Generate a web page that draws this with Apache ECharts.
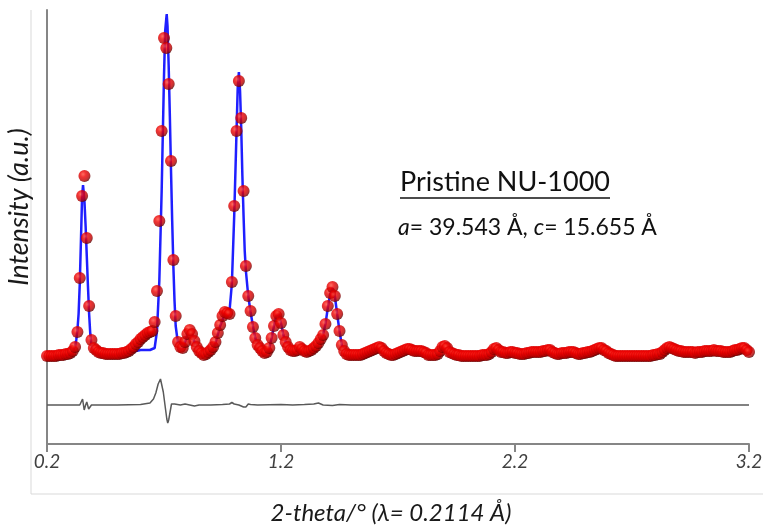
<!DOCTYPE html>
<html><head><meta charset="utf-8">
<script src="https://cdn.jsdelivr.net/npm/echarts@6/dist/echarts.min.js"></script>
<style>html,body{margin:0;padding:0;background:#fff}#c{width:765px;height:526px}</style>
</head><body><div id="c"></div>
<script>
// observed pattern: 2-theta grid start/step and intensities (a.u.)
const obsStart = 0.2, obsStep = 0.01;
const obsIntensity = [
0,0,0,0,0,1,1,1,2,2,
3,5,9,24,78,160,180,118,50,16,
8,6,4,3,3,2,2,2,2,2,
2,2,3,3,4,5,7,9,12,14,
17,19,21,23,24,25,34,65,135,225,
318,308,272,195,96,40,14,9,8,14,
22,26,22,15,9,5,3,1,2,4,
6,9,14,23,31,40,44,43,42,74,
150,225,275,238,165,90,60,45,29,18,
11,8,5,3,4,8,18,30,40,42,
33,21,14,9,6,5,5,6,9,7,
5,4,5,6,8,10,13,17,21,32,
50,63,69,60,42,25,11,5,2,1,
1,1,1,1,1,2,3,4,5,6,
7,8,9,8,5,3,2,1,1,2,
3,4,5,6,7,7,6,5,5,5,
5,4,3,1,1,1,1,2,5,9,
10,8,4,3,2,1,1,0,0,0,
0,0,0,0,0,0,1,1,1,2,
4,7,8,6,4,4,3,3,4,4,
3,3,2,2,2,3,3,4,4,4,
4,4,5,5,6,6,4,3,2,2,
3,3,3,4,4,4,3,2,2,3,
3,4,4,5,6,7,8,8,6,5,
3,2,1,0,0,0,0,0,0,0,
0,0,0,0,0,0,0,0,0,1,
1,2,2,4,6,8,9,8,7,6,
5,5,4,4,4,4,4,3,4,4,
4,5,5,5,5,6,5,5,5,4,
4,4,4,5,6,6,7,8,8,6,
4
];
// calculated (fitted) pattern
const calcTwoTheta = [
0.20,0.24,0.28,0.30,0.31,0.32,0.325,0.33,0.335,0.34,
0.345,0.35,0.354,0.36,0.365,0.37,0.375,0.38,0.385,0.39,
0.40,0.42,0.46,0.50,0.56,0.60,0.64,0.66,0.67,0.68,
0.69,0.70,0.705,0.7115,0.715,0.72,0.725,0.73,0.735,0.74,
0.745,0.75,0.76,0.77,0.78,0.79,0.80,0.81,0.82,0.83,
0.84,0.86,0.88,0.90,0.92,0.94,0.96,0.97,0.98,0.99,
1.00,1.01,1.015,1.02,1.025,1.03,1.035,1.04,1.045,1.05,
1.06,1.07,1.08,1.09,1.10,1.12,1.14,1.15,1.16,1.17,
1.18,1.19,1.20,1.21,1.22,1.24,1.26,1.28,1.30,1.32,
1.34,1.36,1.38,1.39,1.40,1.41,1.42,1.43,1.44,1.45,
1.46,1.47,1.49,1.55,1.60,1.62,1.65,1.70,1.75,1.80,
1.85,1.88,1.90,1.95,2.00,2.10,2.12,2.15,2.20,2.25,
2.30,2.35,2.40,2.45,2.50,2.55,2.60,2.65,2.75,2.80,
2.86,2.90,2.95,3.00,3.05,3.10,3.15,3.18,3.20
];
const calcIntensity = [
0,1,2,3,5,10,16,26,42,72,
115,160,171,155,130,100,70,42,22,11,
6,4,3,3,4,6,6,8,25,75,
165,280,325,342,330,290,240,185,135,90,
55,30,12,8,8,14,22,26,22,14,
8,3,2,5,13,30,42,42,45,72,
140,225,268,284,265,228,180,140,105,85,
60,44,30,18,11,5,4,8,18,30,
40,42,33,21,14,6,5,8,5,5,
8,13,22,32,48,62,68,60,42,25,
11,5,2,1,6,8,3,2,7,4,
1,5,9,1,0,4,7,4,3,3,
4,6,3,3,4,7,2,0,1,4,
8,5,4,4,5,5,6,7,4
];
// difference curve (obs - calc), drawn shifted below the pattern
const diffTwoTheta = [
0.20,0.30,0.34,0.345,0.352,0.359,0.365,0.37,0.378,0.39,
0.50,0.60,0.64,0.655,0.665,0.675,0.685,0.69,0.697,0.707,
0.712,0.716,0.72,0.726,0.732,0.737,0.745,0.75,0.77,0.79,
0.81,0.83,0.85,0.90,0.95,0.98,0.99,1.00,1.02,1.04,
1.05,1.06,1.07,1.10,1.20,1.25,1.30,1.34,1.36,1.38,
1.42,1.45,1.50,3.20
];
const diffIntensity = [
0,0,0,2,6,-5,0,3,-4,0,
0,0.5,2,6,12,21,26,24,13,-5,
-14,-18,-15,-7,1,3,1,-1,0,1,
0,-1,0,0,0.5,1,2.5,1,0,-2,
-2,1,0.5,0,0.5,0,0.5,1,2,0,
-0.5,0.5,0,0
];
const diffOffset = -49;
const xTickValues = [0.2, 1.2, 2.2, 3.2];
const titleText = 'Pristine NU-1000';
const cellText = '{i|a}= 39.543 Å, {i|c}= 15.655 Å';
const xTitle = '2-theta/° (λ= 0.2114 Å)';
const yTitle = 'Intensity (a.u.)';

const obsData = obsIntensity.map((v, i) => [+(obsStart + i * obsStep).toFixed(4), v]);
const calcData = calcTwoTheta.map((x, i) => [x, calcIntensity[i]]);
const diffData = diffTwoTheta.map((x, i) => [x, diffIntensity[i] + diffOffset]);

const FONT = 'Lato';
const chart = echarts.init(document.getElementById('c'), null, {renderer: 'canvas'});
chart.setOption({
  animation: false,
  backgroundColor: '#fff',
  grid: {left: 47, right: 16, top: 10, bottom: 82, containLabel: false, outerBoundsMode: 'none'},
  xAxis: {
    type: 'value', min: 0.2, max: 3.2,
    name: xTitle, nameLocation: 'middle', nameGap: 57,
    nameTextStyle: {fontFamily: FONT, fontStyle: 'italic', fontSize: 24, color: '#1a1a1a', padding: [0, 14, 0, 0]},
    axisLine: {show: true, onZero: false, lineStyle: {color: '#868686', width: 2}},
    axisTick: {show: true, length: 8, customValues: xTickValues, lineStyle: {color: '#868686', width: 2}},
    axisLabel: {customValues: xTickValues, formatter: v => v.toFixed(1), margin: 8,
      fontFamily: FONT, fontStyle: 'italic', fontSize: 19, color: '#404040'},
    splitLine: {show: false}
  },
  yAxis: {
    type: 'value', min: -88, max: 346,
    name: yTitle, nameLocation: 'middle', nameGap: 14, nameRotate: 90,
    nameTextStyle: {fontFamily: FONT, fontStyle: 'italic', fontSize: 27, color: '#1a1a1a', padding: [0, 0, 0, 40]},
    axisLine: {show: true, lineStyle: {color: '#868686', width: 2}},
    axisTick: {show: false}, axisLabel: {show: false}, splitLine: {show: false}
  },
  graphic: [
    {type: 'line', shape: {x1: 31, y1: 10, x2: 31, y2: 494}, style: {stroke: '#d9d9d9', lineWidth: 1}, silent: true},
    {type: 'line', shape: {x1: 31, y1: 494, x2: 763, y2: 494}, style: {stroke: '#d9d9d9', lineWidth: 1}, silent: true},
    {type: 'text', left: 400, top: 169, style: {text: titleText, fontFamily: FONT, fontSize: 27, fill: '#111'}},
    {type: 'line', shape: {x1: 400, y1: 198, x2: 610, y2: 198}, style: {stroke: '#111', lineWidth: 1.5}},
    {type: 'text', left: 398, top: 216, style: {text: cellText, fontFamily: FONT, fontSize: 23, fill: '#111',
      rich: {i: {fontFamily: FONT, fontSize: 23, fontStyle: 'italic', fill: '#111'}}}}
  ],
  series: [
    {type: 'line', name: 'calc', data: calcData, showSymbol: false, smooth: false, z: 2,
      lineStyle: {color: '#1f1fff', width: 2.5}},
    {type: 'scatter', name: 'obs', data: obsData, symbolSize: 12, z: 3,
      itemStyle: {color: {type: 'radial', x: 0.38, y: 0.35, r: 0.7, colorStops: [
        {offset: 0, color: '#ff4a3a'}, {offset: 0.35, color: '#ee0000'},
        {offset: 0.75, color: '#b80000'}, {offset: 1, color: '#4a0000'}]}}},
    {type: 'line', name: 'diff', data: diffData, showSymbol: false, smooth: false, z: 2,
      lineStyle: {color: '#595959', width: 1.5}}
  ]
});
</script></body></html>
